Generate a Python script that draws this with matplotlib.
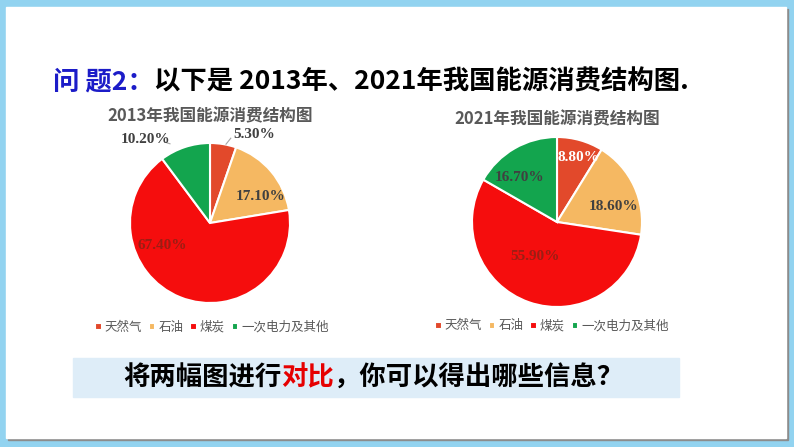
import numpy as np
import matplotlib
matplotlib.use('Agg')
import matplotlib.pyplot as plt
from matplotlib.patches import Rectangle

plt.rcParams['font.family'] = ['Noto Sans CJK SC', 'DejaVu Sans']

W, H = 794, 447

# Data
categories = ['天然气', '石油', '煤炭', '一次电力及其他']
share_2013 = [5.3, 17.1, 67.4, 10.2]
share_2021 = [8.8, 18.6, 55.9, 16.7]
colors = ['#e2492b', '#f5b862', '#f50d0d', '#13a54e']


def fx(px):
    return px / W


def fy(py):
    return 1 - py / H


def chain_text(fig, x, y, parts, size):
    # draw text pieces one after another, each in its own colour
    r = fig.canvas.get_renderer()
    for s, c in parts:
        t = fig.text(fx(x), fy(y), s, color=c, fontsize=size, fontweight='bold',
                     va='center', ha='left')
        x += t.get_window_extent(renderer=r).width


def draw_pie(fig, cx, cy, rad, vals, title, title_y, lbl_pos, lbl_col, leaders, leg_xy):
    ax = fig.add_axes([fx(cx - rad), fy(cy + rad), 2 * rad / W, 2 * rad / H])
    wedges, _ = ax.pie(vals, colors=colors, startangle=90, counterclock=False,
                       radius=1, wedgeprops=dict(edgecolor='white', linewidth=1.5))
    ax.set_xlim(-1, 1)
    ax.set_ylim(-1, 1)
    ax.set_aspect('equal')
    ax.axis('off')
    for v, (x, y), c in zip(vals, lbl_pos, lbl_col):
        ax.text(x, y, f'{v:.2f}%', ha='center', va='center', color=c,
                fontsize=11, fontweight='bold',
                family=['Liberation Serif', 'DejaVu Serif'], clip_on=False)
    for (x0, y0, x1, y1) in leaders:
        ax.plot([x0, x1], [y0, y1], color='#a6a6a6', lw=0.8, clip_on=False)
    fig.text(fx(cx), fy(title_y), title, ha='center', va='center',
             fontsize=12, fontweight='bold', color='#595959')
    fig.legend(wedges, categories, loc='center', ncol=4, frameon=False,
               bbox_to_anchor=(fx(leg_xy[0]), fy(leg_xy[1])), fontsize=9,
               handlelength=0.5, handleheight=0.5, handletextpad=0.25,
               columnspacing=0.55, labelcolor='#595959')


fig = plt.figure(figsize=(W / 100, H / 100), dpi=100)
fig.patch.set_facecolor('#92d3f0')

bg = fig.add_axes([0, 0, 1, 1], zorder=-5)
bg.set_xlim(0, W)
bg.set_ylim(H, 0)
bg.axis('off')
bg.add_patch(Rectangle((8, 9), 780, 431, color='#8c8c8c'))
bg.add_patch(Rectangle((6, 7), 780, 431, color='white'))
bg.add_patch(Rectangle((73, 358), 606, 39, color='#deedf8'))

chain_text(fig, 53, 82, [('问 题2：', '#1c1cc8'),
                         ('以下是 2013年、2021年我国能源消费结构图.', 'black')], 19)

draw_pie(fig, 210, 223, 80, share_2013, '2013年我国能源消费结构图', 116,
         [(0.55, 1.1), (0.63, 0.33), (-0.6, -0.28), (-0.8, 1.04)],
         ['#404040', '#404040', '#9a1e14', '#404040'],
         [(0.2, 0.985, 0.26, 1.06), (-0.5, 0.99, -0.56, 1.01)],
         (212, 327))

draw_pie(fig, 557, 222, 85, share_2021, '2021年我国能源消费结构图', 119,
         [(0.25, 0.76), (0.66, 0.18), (-0.26, -0.41), (-0.44, 0.52)],
         ['white', '#404040', '#9a1e14', '#404040'],
         [],
         (552, 326))

chain_text(fig, 123, 378, [('将两幅图进行', 'black'), ('对比', '#e60000'),
                           ('，你可以得出哪些信息？', 'black')], 19)

fig.savefig('out.png', dpi=100)
